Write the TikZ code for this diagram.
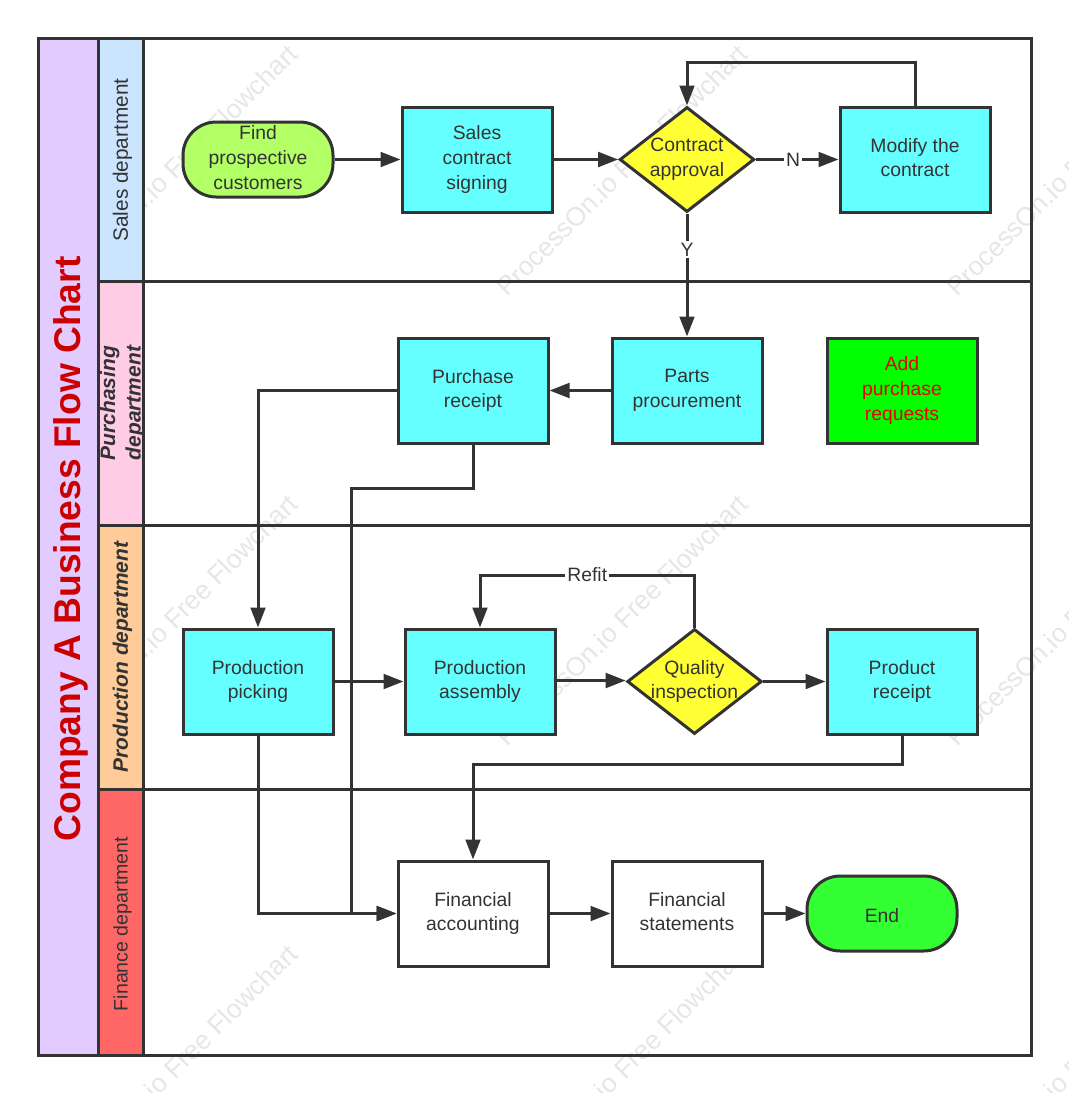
\documentclass[tikz,border=0pt]{standalone}
\usepackage{fontspec}
\setmainfont{Liberation Sans}
\usetikzlibrary{arrows.meta,shapes.geometric}
\definecolor{ink}{HTML}{333333}
\definecolor{mark}{HTML}{E6E6E6}
\definecolor{titlefill}{HTML}{E2CCFF}
\definecolor{salesfill}{HTML}{CCE5FF}
\definecolor{purchfill}{HTML}{FFCCE5}
\definecolor{prodfill}{HTML}{FFCC99}
\definecolor{finfill}{HTML}{FF6666}
\definecolor{cyanbox}{HTML}{66FFFF}
\definecolor{yellowbox}{HTML}{FFFF33}
\definecolor{limebox}{HTML}{B2FF66}
\definecolor{endbox}{HTML}{33FF33}
\definecolor{addbox}{HTML}{00FF00}
\definecolor{titlered}{HTML}{CC0000}
\definecolor{addred}{HTML}{E60000}
\newcommand\topstrut{\rule{0pt}{16.4pt}}
\newcommand\boxstrut{\rule[-3.1pt]{0pt}{1pt}}
\tikzset{
  x=0.75pt,y=-0.75pt,
  every node/.style={inner sep=0pt,text=ink},
  base/.style={draw=ink,line width=2.25pt,align=center,font=\fontsize{14.5}{18.5}\selectfont,
    execute at begin node=\topstrut},
  procbox/.style={base,rectangle,minimum width=112.5pt,minimum height=78.75pt,fill=cyanbox},
  plainbox/.style={procbox,fill=white},
  pill/.style={base,rectangle,rounded corners=25pt,minimum width=112.5pt,minimum height=56.25pt},
  decision/.style={base,diamond,aspect=1.28,inner xsep=-10pt,inner ysep=-8pt,minimum width=101pt,minimum height=78.75pt,fill=yellowbox},
  lanebody/.style={draw=ink,line width=2.25pt,rectangle,minimum width=666pt},
  lanehead/.style={draw=ink,line width=2.25pt,rectangle,rotate=90,minimum height=33.75pt},
  lanetext/.style={rotate=90,align=center,font=\fontsize{15.6}{19}\selectfont},
  flow/.style={draw=ink,line width=2.25pt,-{Triangle[length=15pt,width=11pt]}},
  lbl/.style={fill=white,inner sep=1.5pt,font=\fontsize{14.5}{18.5}\selectfont},
  wm/.style={rotate=45,text=mark,font=\fontsize{19.8}{24}\selectfont},
}
\begin{document}
\begin{tikzpicture}
\useasboundingbox (0,0) rectangle (1068,1093);
% watermark
\begin{scope}
\clip (0,0) rectangle (1068,1093);
\foreach \wx/\wy/\wn in {172/170/a,622/170/b,1072/170/c,172/620/d,622/620/e,1072/620/f,172/1070/g,622/1070/h,1072/1070/i}
  \node[wm] (wm\wn) at (\wx,\wy) {ProcessOn.io Free Flowchart};
\end{scope}
% swimlanes
\node[draw=ink,line width=2.25pt,rectangle,rotate=90,fill=titlefill,minimum width=762.75pt,minimum height=45pt] (title) at (68,546.5) {};
\node[lanebody,minimum height=182.25pt] (b1) at (587,159.5) {};
\node[lanebody,minimum height=183pt] (b2) at (587,403) {};
\node[lanebody,minimum height=198pt] (b3) at (587,657) {};
\node[lanebody,minimum height=199.5pt] (b4) at (587,922) {};
\node[lanehead,fill=salesfill,minimum width=182.25pt] (l1) at (120.5,159.5) {};
\node[lanehead,fill=purchfill,minimum width=183pt] (l2) at (120.5,403) {};
\node[lanehead,fill=prodfill,minimum width=198pt] (l3) at (120.5,657) {};
\node[lanehead,fill=finfill,minimum width=199.5pt] (l4) at (120.5,922) {};
\node[rotate=90,text=titlered,font=\fontsize{27.9}{32}\selectfont\bfseries] (titletext) at (71,549) {Company A Business Flow Chart};
\node[lanetext] (t1) at (122.5,160) {Sales department};
\node[lanetext,font=\fontsize{15.7}{19.2}\selectfont\bfseries\itshape] (t2) at (122.5,403) {Purchasing\\department};
\node[lanetext,font=\fontsize{15.7}{19}\selectfont\bfseries\itshape] (t3) at (122.5,657) {Production department};
\node[lanetext,font=\fontsize{14.7}{19}\selectfont] (t4) at (122.5,924) {Finance department};
% nodes
\node[pill,fill=limebox] (find) at (258,159.5) {Find\\prospective\\customers\boxstrut};
\node[procbox] (sales) at (477,159.5) {Sales\\contract\\signing\boxstrut};
\node[decision] (contract) at (687,159.5) {Contract\\approval\boxstrut};
\node[procbox] (modify) at (915,159.5) {Modify the\\contract\boxstrut};
\node[procbox] (purchase) at (473,390.5) {Purchase\\receipt\boxstrut};
\node[procbox] (parts) at (687,390.5) {Parts\\procurement\boxstrut};
\node[procbox,fill=addbox,text=addred] (add) at (902,390.5) {Add\\purchase\\requests\boxstrut};
\node[procbox] (picking) at (258,681.5) {Production\\picking\boxstrut};
\node[procbox] (assembly) at (480,681.5) {Production\\assembly\boxstrut};
\node[decision] (quality) at (694.5,681.5) {Quality\\inspection\boxstrut};
\node[procbox] (receipt) at (902,681.5) {Product\\receipt\boxstrut};
\node[plainbox] (accounting) at (473,913.5) {Financial\\accounting\boxstrut};
\node[plainbox] (statements) at (687,913.5) {Financial\\statements\boxstrut};
\node[pill,fill=endbox] (finish) at (882,913.5) {End\boxstrut};
% connector bends
\coordinate (m1) at (modify.north |- 0,62);
\coordinate (m2) at (contract.north |- 0,62);
\coordinate (r1) at (quality.north |- 0,575);
\coordinate (r2) at (assembly.north |- 0,575);
\coordinate (p1) at (473,488);
\coordinate (p2) at (351,488);
\coordinate (p3) at (351,913.5);
\coordinate (q1) at (258,913.5);
\coordinate (s1) at (902,764);
\coordinate (s2) at (473,764);
% connectors
\draw[flow] (find) -- (sales);
\draw[flow] (sales) -- (contract);
\draw[flow] (contract) -- node[lbl,pos=.45]{N} (modify);
\draw[flow] (modify.north) -- (m1) -- (m2) -- (contract.north);
\draw[flow] (contract.south) -- node[lbl,pos=.294]{Y} (parts.north);
\draw[flow] (parts) -- (purchase);
\draw[flow] (purchase.west) -| (picking.north);
\draw[flow] (purchase.south) -- (p1) -- (p2) -- (p3) -- (accounting.west);
\draw[flow] (picking.south) -- (q1) -- (accounting.west);
\draw[flow] (picking) -- (assembly);
\draw[flow] ([yshift=.75pt]assembly.east) -- ([yshift=.75pt]quality.west);
\draw[flow] (quality) -- (receipt);
\draw[flow] (quality.north) -- (r1) -- node[lbl]{Refit} (r2) -- (assembly.north);
\draw[flow] (receipt.south) -- (s1) -- (s2) -- (accounting.north);
\draw[flow] (accounting) -- (statements);
\draw[flow] (statements) -- (finish);
\end{tikzpicture}
\end{document}
